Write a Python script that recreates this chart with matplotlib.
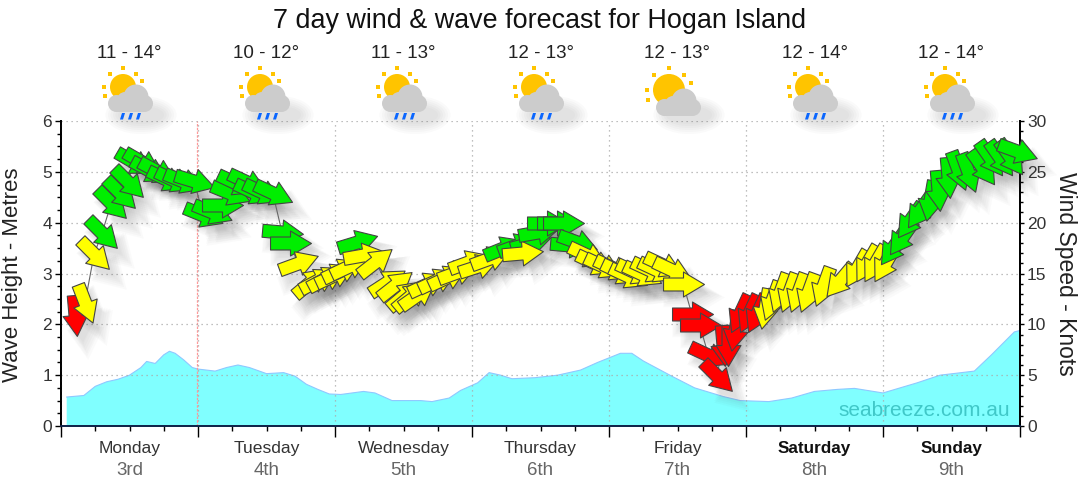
import matplotlib
matplotlib.use('Agg')
import matplotlib.pyplot as plt
from matplotlib.markers import MarkerStyle
from matplotlib.path import Path
from matplotlib.patches import Circle, Rectangle, Ellipse, Polygon
from matplotlib.transforms import Affine2D
from matplotlib.ticker import MultipleLocator

plt.rcParams['font.family'] = ['Liberation Sans', 'DejaVu Sans']

# ------------------------------------------
# Data
# ------------------------------------------
days = ['Monday', 'Tuesday', 'Wednesday', 'Thursday', 'Friday', 'Saturday', 'Sunday']
dates = ['3rd', '4th', '5th', '6th', '7th', '8th', '9th']
temps = ['11 - 14°', '10 - 12°', '11 - 13°', '12 - 13°', '12 - 13°', '12 - 14°', '12 - 14°']
has_rain = [True, True, True, True, False, True, True]

wave_hours = [1, 4, 6, 8, 10, 12, 14, 15, 16.5, 18, 19, 20, 21.5, 23, 24, 27, 29, 31, 33, 36,
              39, 41, 43, 45, 47, 49, 51, 53, 55, 58, 63, 65, 68, 70, 73, 75, 77, 79, 83, 87,
              91, 94, 98, 100, 102, 105, 107, 111, 116, 119, 124, 128, 132, 136, 139, 144,
              150, 154, 160, 163, 167, 168]
wave_height = [.57, .6, .78, .87, .92, 1.0, 1.15, 1.27, 1.23, 1.4, 1.47, 1.43, 1.3, 1.15, 1.12, 1.08, 1.15, 1.2, 1.15, 1.03,
               1.05, .98, .82, .72, .63, .62, .65, .68, .65, .5, .5, .48, .55, .7, .85, 1.05, 1.0, .93, .95, 1.0,
               1.1, 1.25, 1.43, 1.43, 1.28, 1.1, .98, .75, .58, .5, .48, .55, .68, .72, .74, .65,
               .85, 1.0, 1.08, 1.4, 1.85, 1.88]

wind_hours = [2.5, 4.2, 5.8, 7.2, 8.8, 10.3, 11.7, 12.8, 14.2, 15.4, 16.8, 18.4, 19.8, 21.4, 23.3,
              24.9, 26.5, 28.2, 29.6, 30.7, 32.6, 33.6, 35.2, 37.1, 38.7, 40.1, 41.5,
              43.6, 45, 46.4, 47.8, 49.1, 50.5, 51.9, 52.9, 55,
              57.1, 58.5, 60.1, 61.1, 62.4, 64.1, 65.9, 67.6, 69.4, 71.3, 73.1, 75.2,
              77.4, 79.9, 82.2, 80.8, 83.6, 85.1, 86.9, 87.9, 89.2, 90.4,
              92.2, 93.6, 95, 96.7, 97.9, 99.3, 100.6, 101.8, 103.2, 104.4, 105.5, 107, 109,
              110.5, 111.9, 113.4, 114.9, 116, 116.9, 118.1, 119, 120.5, 121.9,
              123.3, 124.6, 126, 127.5, 129.1, 130.9, 133.5, 136.5, 139.5, 141.2, 142.6, 144.4,
              145.8, 147.3, 148.7, 150.5, 152.2, 153.6, 155.4, 157.1, 158.9, 161.4, 162.8, 164.5, 166.3, 167.5]
wind_knots = [10.9, 12.1, 16.9, 19, 21.9, 22.9, 24, 26, 26, 25.2, 25.1, 24.3, 24.2, 24.1, 24.1,
              20.8, 21, 21.7, 22.9, 23.9, 24, 23, 23, 22.9, 19.1, 18, 16,
              14.2, 14.4, 14.6, 14.9, 15.3, 15.7, 18.1, 16.8, 16.1,
              14.2, 13.9, 12.9, 12.8, 12.9, 14, 14.4, 14.7, 15.1, 16.1, 15.7, 16.5,
              17.5, 17.8, 18, 17, 19.1, 20, 20, 20, 17.8, 18.1,
              16.8, 16, 15.7, 15.5, 15.1, 14.8, 15.1, 15, 15.3, 15.3, 15.8, 15.3, 14,
              11, 9.9, 7, 4.9, 8, 8, 9.4, 11.1, 11.1, 11.1,
              11.6, 12.4, 13.2, 13.2, 13.2, 13.2, 13.8, 14.4, 15.5, 16, 16, 16,
              17.6, 18.6, 20.3, 21.2, 22.2, 23.2, 24.5, 25.2, 25, 25.5, 26.4, 26.4, 26.5, 27]
# direction the arrow points, degrees anticlockwise from east
wind_dir = [-85, -69, -45, -45, -45, -45, -45, -30, -30, -28, -28, -25, -25, -22, -17,
            -22, -22, 0, -22, -25, -25, -25, -25, -25, -5, 0, 20,
            40, 28, 28, 25, 25, 25, 17, 10, 38,
            33, 38, 40, 40, 35, 25, 25, 25, 20, 20, 18, 20,
            22, 20, 15, 5, 10, 0, 0, 0, -5, -20,
            -25, -25, -25, -25, -25, -25, -25, -25, -25, -25, -25, -25, 0,
            0, 0, -25, -45, -85, -90, -100, -115, -115, -115,
            -100, -110, -110, -110, -110, -110, -110, -130, -120, -120, -120, -120,
            -125, -125, -125, -125, -100, -85, -85, -70, -70, -55, -55, -55, -55, -20]
wind_col = ['r', 'y', 'y', 'g', 'g', 'g', 'g', 'g', 'g', 'g', 'g', 'g', 'g', 'g', 'g',
            'g', 'g', 'g', 'g', 'g', 'g', 'g', 'g', 'g', 'g', 'g', 'y',
            'y', 'y', 'y', 'y', 'y', 'y', 'g', 'y', 'y',
            'y', 'y', 'y', 'y', 'y', 'y', 'y', 'y', 'y', 'y', 'y', 'y',
            'g', 'g', 'g', 'y', 'g', 'g', 'g', 'g', 'g', 'g',
            'y', 'y', 'y', 'y', 'y', 'y', 'y', 'y', 'y', 'y', 'y', 'y', 'y',
            'r', 'r', 'r', 'r', 'r', 'r', 'r', 'r', 'r', 'r',
            'y', 'y', 'y', 'y', 'y', 'y', 'y', 'y', 'y', 'y', 'y', 'y',
            'g', 'g', 'g', 'g', 'g', 'g', 'g', 'g', 'g', 'g', 'g', 'g', 'g', 'g']
colours = {'r': '#ff0000', 'y': '#ffff00', 'g': '#00ee00'}

# ------------------------------------------
# Axes
# ------------------------------------------
fig = plt.figure(figsize=(10.8, 4.9), dpi=100)
ax = fig.add_axes([61 / 1080, 64 / 490, 959 / 1080, 305 / 490])
ax.set_xlim(0, 168)
ax.set_ylim(0, 6)
ax2 = ax.twinx()
ax2.set_ylim(0, 30)

for a in (ax, ax2):
    a.spines['top'].set_visible(False)
    a.spines['left'].set_linewidth(1.3)
    a.spines['right'].set_linewidth(1.3)
    a.spines['bottom'].set_color('#10244a')
    a.spines['bottom'].set_linewidth(1.3)

ax.xaxis.set_major_locator(MultipleLocator(24))
ax.xaxis.set_minor_locator(MultipleLocator(6))
ax.yaxis.set_major_locator(MultipleLocator(1))
ax.yaxis.set_minor_locator(MultipleLocator(0.25))
ax2.yaxis.set_major_locator(MultipleLocator(5))
ax2.yaxis.set_minor_locator(MultipleLocator(1))
ax.tick_params(axis='x', which='major', length=8, width=1, labelbottom=False)
ax.tick_params(axis='x', which='minor', length=3.5, width=1)
ax.tick_params(axis='y', which='major', length=4.5, width=1, labelsize=12.5, labelcolor='#333333', pad=2)
ax.tick_params(axis='y', which='minor', length=3, width=1)
ax2.tick_params(axis='y', which='major', length=3, width=1, labelsize=12.5, labelcolor='#333333', pad=2)
ax2.tick_params(axis='y', which='minor', length=2.5, width=1)

ax.grid(True, which='major', linestyle=(0, (1, 3)), color='#aaaaaa', linewidth=0.9)
ax.set_axisbelow(False)
ax.axvline(23.9, color='#ff9999', linestyle=(0, (2, 1)), linewidth=0.9)

# wave height area
ax.fill_between(wave_hours, wave_height, color='#80ffff', edgecolor='none', zorder=1)
ax.plot(wave_hours, wave_height, color='#8fc8ff', linewidth=0.8, zorder=1.2)

# ------------------------------------------
# Wind arrows
# ------------------------------------------
arrow = Path([(-20, -6.5), (0, -6.5), (0, -12.5), (21, 0), (0, 12.5), (0, 6.5), (-20, 6.5), (-20, -6.5)], closed=True)
arrow_size = 30.2

# soft shadow, built from a few faint offset copies
for x, y, d in zip(wind_hours, wind_knots, wind_dir):
    m = MarkerStyle(arrow, transform=Affine2D().rotate_deg(d))
    for scale, dx, dy in [(1.5, 10, -13), (1.4, 9, -12), (1.3, 9, -11), (1.2, 8, -10), (1.1, 7, -9), (1.0, 6, -8), (0.9, 6, -8)]:
        ax2.plot([x], [y], marker=m, markersize=arrow_size * scale, markerfacecolor='#444444',
                 markeredgecolor='none', alpha=0.024, clip_on=False, zorder=3, linestyle='none',
                 transform=ax2.transData + Affine2D().translate(dx, dy))

ax2.plot(wind_hours, wind_knots, color='#666666', linewidth=0.8, zorder=4, clip_on=False)

for x, y, d, c in zip(wind_hours, wind_knots, wind_dir, wind_col):
    m = MarkerStyle(arrow, transform=Affine2D().rotate_deg(d))
    ax2.plot([x], [y], marker=m, markersize=arrow_size, markerfacecolor=colours[c],
             markeredgecolor='#444444', markeredgewidth=0.8, clip_on=False, zorder=5, linestyle='none')

# ------------------------------------------
# Text
# ------------------------------------------
fig.text(540 / 1080, 1 - 21 / 490, '7 day wind & wave forecast for Hogan Island', ha='center', va='center',
         fontsize=19.4, color='#111111')
fig.text(13 / 1080, 1 - 275 / 490, 'Wave Height - Metres', rotation=90, ha='center', va='center',
         fontsize=16, color='#222222')
fig.text(1066 / 1080, 1 - 274 / 490, 'Wind Speed - Knots', rotation=-90, ha='center', va='center',
         fontsize=16.5, color='#222222')
fig.text(1010 / 1080, 1 - 411 / 490, 'seabreeze.com.au', ha='right', va='center', fontsize=15, color='#40c8c8')

trans = ax.get_xaxis_transform()
for i, (day, date) in enumerate(zip(days, dates)):
    mid = 24 * i + 12
    bold = day in ('Saturday', 'Sunday')
    ax.text(mid, -22 / 305, day, transform=trans, ha='center', va='center', fontsize=12.6 if not bold else 12.3,
            color='#111111' if bold else '#333333', fontweight='bold' if bold else 'normal')
    ax.text(mid, -44 / 305, date, transform=trans, ha='center', va='center', fontsize=13.5, color='#666666')
    ax.text(mid, 1 + 68 / 305, temps[i], transform=trans, ha='center', va='center', fontsize=13.5, color='#222222')

# ------------------------------------------
# Weather icons, drawn in a pixel overlay
# ------------------------------------------
over = fig.add_axes([0, 0, 1, 1], zorder=10)
over.set_xlim(0, 1080)
over.set_ylim(490, 0)
over.axis('off')
over.patch.set_alpha(0)


def draw_icon(cx, rain):
    sx = cx - 6 if rain else cx - 8
    sy = 87 if rain else 90
    sr = 13 if rain else 16
    # shadow
    for k in range(6):
        over.add_patch(Ellipse((cx + 12, 115), 46 + k * 5, 18 + k * 4, color='#777777', alpha=0.035, lw=0))
    # sun and rays
    rays = [(0, -1), (0.7, -0.7), (-0.7, -0.7), (-1, 0), (1, -0.3), (-0.95, 0.45)]
    over.add_patch(Circle((sx, sy), sr, color='#ffc400', lw=0))
    for ux, uy in rays:
        p = (sx + ux * (sr + 6), sy + uy * (sr + 6))
        over.add_patch(Rectangle((p[0] - 2, p[1] - 2), 4, 4, color='#ffc400', lw=0))
    # cloud
    grey = '#cccccc'
    base = 112 if rain else 116
    for px, py, r in [(cx + 7, base - 15, 12.5), (cx - 12.5, base - 8.5, 8.5), (cx + 15.5, base - 8.5, 8.5),
                      (cx - 4, base - 12, 8)]:
        over.add_patch(Circle((px, py), r, color=grey, lw=0))
    over.add_patch(Rectangle((cx - 12.5, base - 12), 28, 12, color=grey, lw=0))
    # rain strokes
    if rain:
        for off in (-7, 1, 9):
            over.add_patch(Polygon([(cx + off, 113), (cx + off + 3, 113), (cx + off + 1, 119.5), (cx + off - 2, 119.5)],
                                   color='#0a66ff', lw=0))


for i, rain in enumerate(has_rain):
    draw_icon(129 + 137 * i, rain)

fig.savefig('out.png', dpi=100)
